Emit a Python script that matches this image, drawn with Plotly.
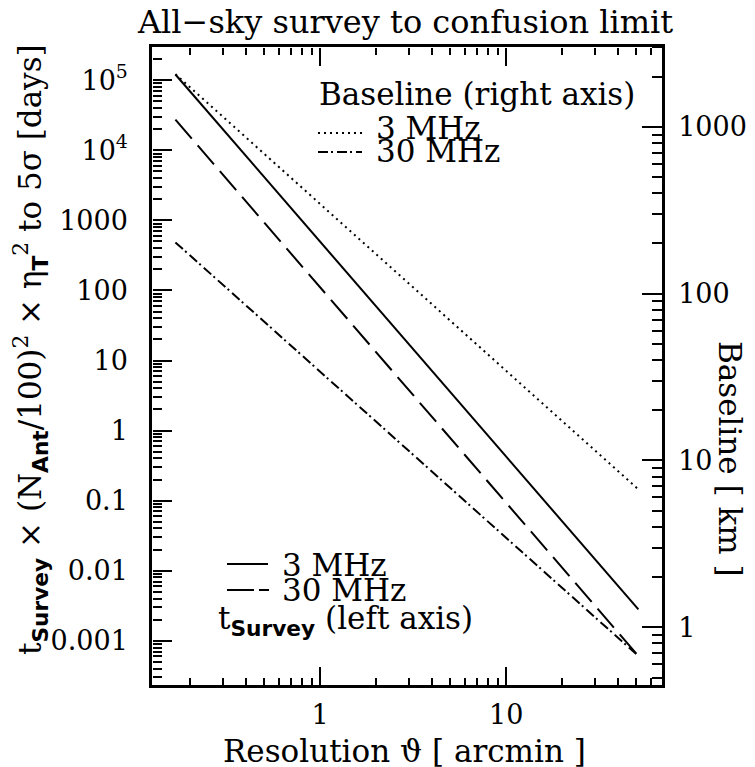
import plotly.graph_objects as go
import numpy as np

# ---- data ----
theta = [0.167, 51.3]                 # resolution [arcmin]
t_survey_3mhz = [1.21e5, 2.8e-3]      # left axis [days]
t_survey_30mhz = [2.74e4, 6.05e-4]    # left axis [days]
baseline_3mhz = [2070.0, 6.71]        # right axis [km]
baseline_30mhz = [203.0, 0.673]       # right axis [km]

left_major = [1e-3, 1e-2, 1e-1, 1, 10, 100, 1000, 1e4, 1e5]
left_labels = ["0.001", "0.01", "0.1", "1", "10", "100", "1000",
               "10<sup>4</sup>", "10<sup>5</sup>"]
right_major = [1, 10, 100, 1000]
right_labels = ["1", "10", "100", "1000"]
x_major = [1, 10]
x_labels = ["1", "10"]

def minor_vals(lo, hi):
    return [k * 10.0 ** n for n in range(lo, hi) for k in range(2, 10)]

FONT = "DejaVu Serif"
FS = 31      # words
TFS = 27     # tick labels
BODY = 8     # default page margin of the html body
W, H = 755 - BODY, 767 - BODY
PL, PR, PT, PB = 152, 662, 47, 685          # plot area in window pixels
L, T = PL - BODY, PT - BODY
R, B = W + BODY - PR, H + BODY - PB

XR = [np.log10(0.125), np.log10(68.7)]
YR = [-3.632, 5.475]
Y2R = [-0.346, 3.479]

def px(xp):
    return (xp - PL) / (PR - PL)

def py(yp):
    return (PB - yp) / (PB - PT)

fig = go.Figure()
lw = 2
fig.add_trace(go.Scatter(x=theta, y=t_survey_3mhz, mode="lines",
                         line=dict(color="black", width=lw), xaxis="x", yaxis="y"))
fig.add_trace(go.Scatter(x=theta, y=t_survey_30mhz, mode="lines",
                         line=dict(color="black", width=lw, dash="25px,9px"),
                         xaxis="x", yaxis="y"))
fig.add_trace(go.Scatter(x=theta, y=baseline_3mhz, mode="lines",
                         line=dict(color="black", width=lw, dash="2px,4px"),
                         xaxis="x", yaxis="y2"))
fig.add_trace(go.Scatter(x=theta, y=baseline_30mhz, mode="lines",
                         line=dict(color="black", width=lw, dash="10px,3px,2px,4px"),
                         xaxis="x", yaxis="y2"))

# tick-only axes: outside ticks of free axes placed on the opposite frame edge
def tick_axis(vals, length, side, position, overlay, rng):
    return dict(type="log", range=rng, tickmode="array", tickvals=vals,
                ticks="outside", ticklen=length, tickwidth=2, tickcolor="black",
                showticklabels=False, showline=False, showgrid=False, zeroline=False,
                anchor="free", position=position, side=side, overlaying=overlay,
                automargin=False)

tick_axes = {
    "xaxis2": tick_axis(minor_vals(-1, 2), 7, "top", 0, "x", XR),
    "xaxis3": tick_axis(x_major, 18, "top", 0, "x", XR),
    "xaxis4": tick_axis(minor_vals(-1, 2), 7, "bottom", 1, "x", XR),
    "xaxis5": tick_axis(x_major, 18, "bottom", 1, "x", XR),
    "yaxis3": tick_axis(minor_vals(-4, 6), 9, "right", 0, "y", YR),
    "yaxis4": tick_axis(left_major, 19, "right", 0, "y", YR),
    "yaxis5": tick_axis(minor_vals(-1, 4), 10, "left", 1, "y", Y2R),
    "yaxis6": tick_axis(right_major, 20, "left", 1, "y", Y2R),
}
for k in ["x2", "x3", "x4", "x5"]:
    fig.add_trace(go.Scatter(x=[], y=[], xaxis=k, yaxis="y", hoverinfo="skip"))
for k in ["y3", "y4", "y5", "y6"]:
    fig.add_trace(go.Scatter(x=[], y=[], xaxis="x", yaxis=k, hoverinfo="skip"))

lab = dict(showgrid=False, zeroline=False, ticks="", automargin=False,
           showline=True, linecolor="black", linewidth=2.5,
           tickfont=dict(family=FONT, size=TFS, color="black"))

fig.update_layout(
    width=W, height=H,
    margin=dict(l=L, r=R, t=T, b=B, pad=0),
    paper_bgcolor="white", plot_bgcolor="white",
    showlegend=False,
    font=dict(family=FONT, size=FS, color="black"),
    xaxis=dict(type="log", range=XR, tickmode="array", tickvals=x_major,
               ticktext=x_labels, mirror=True, ticklabelstandoff=4, **lab),
    yaxis=dict(type="log", range=YR, tickmode="array", tickvals=left_major,
               ticktext=left_labels, ticklabelstandoff=16, **lab),
    yaxis2=dict(type="log", range=Y2R, overlaying="y", anchor="x", side="right",
                tickmode="array", tickvals=right_major, ticktext=right_labels,
                ticklabelstandoff=8, **lab),
    **tick_axes,
)

ann = []
def text(s, x, y, xanchor="left", angle=0, size=FS):
    ann.append(dict(text=s, x=px(x), y=py(y), xref="paper", yref="paper",
                    showarrow=False, xanchor=xanchor, yanchor="middle",
                    textangle=angle, font=dict(size=size)))

sub = lambda s: "<sub><span style='font-family:DejaVu Sans'><b>%s</b></span></sub>" % s
text("All\u2212sky survey to confusion limit", 405, 22, "center", size=32)
text("Resolution \u03d1 [ arcmin ]", 404, 751, "center")
text("t" + sub("Survey") + " \u00d7 (N" + sub("Ant") + "/100)<sup>2</sup> \u00d7 \u03b7"
     + sub("T") + "<sup>2</sup> to 5\u03c3 [days]", 30, 350, "center", -90)
text("Baseline [ km ]", 730, 459, "center", 90)
text("Baseline (right axis)", 317, 94)
text("3 MHz", 374, 128)
text("30 MHz", 374, 151)
text("3 MHz", 280, 565)
text("30 MHz", 280, 590)
text("t" + sub("Survey") + " (left axis)", 216, 620)
fig.update_layout(annotations=ann)

shapes = []
def sample(x0, x1, y, dash):
    shapes.append(dict(type="line", xref="paper", yref="paper", x0=px(x0), x1=px(x1),
                       y0=py(y), y1=py(y), line=dict(color="black", width=2, dash=dash)))
sample(318, 362, 133, "2px,4px")
sample(318, 362, 152, "10px,3px,2px,4px")
sample(227, 268, 564, "solid")
sample(227, 270, 590, "27px,5px,10px,20px")
fig.update_layout(shapes=shapes)

fig.write_html("out.html")
